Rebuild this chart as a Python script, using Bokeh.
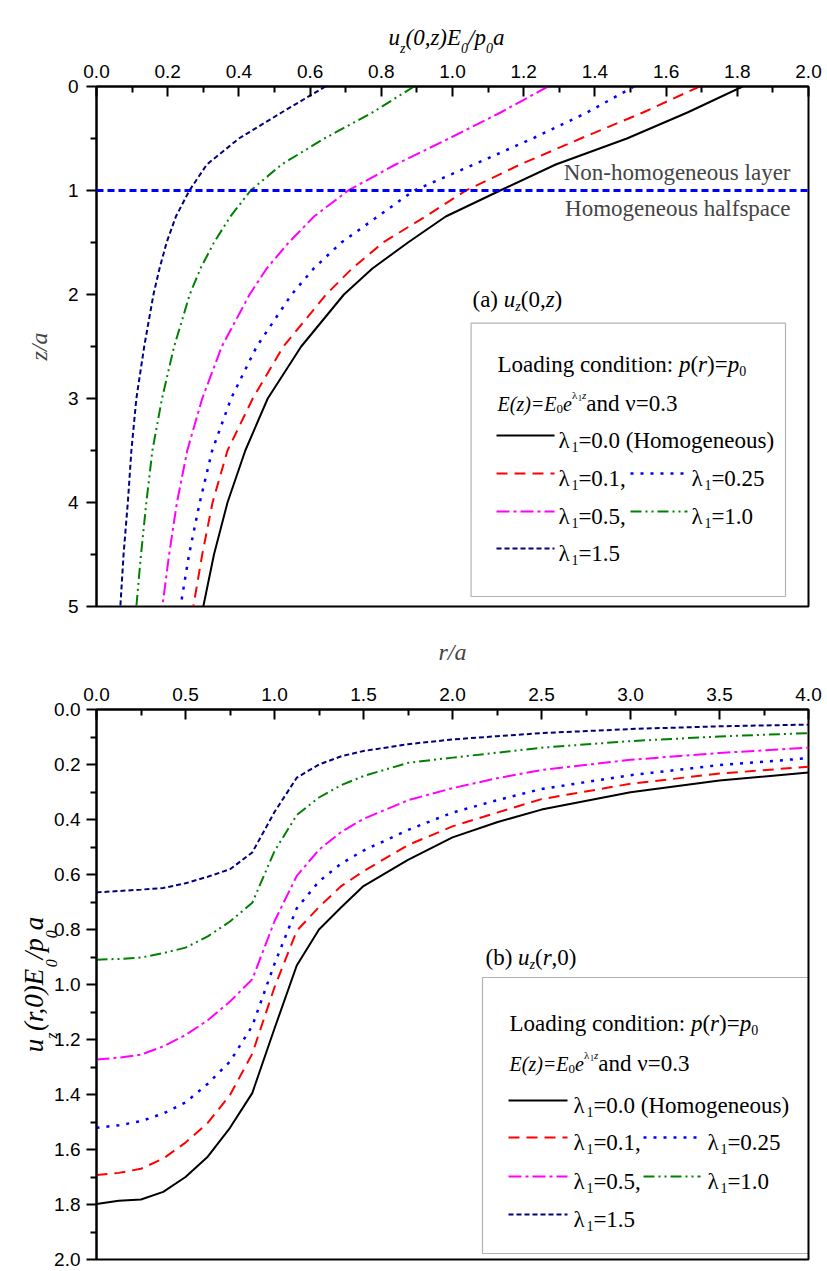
import math
from bokeh.plotting import figure
from bokeh.models import (Range1d, FixedTicker, PrintfTickFormatter, Label, BoxAnnotation, Span,
                          LinearAxis)
from bokeh.layouts import column
from bokeh.embed import file_html
from bokeh.resources import INLINE

# ---------------- data: panel (a) u_z(0,z) ----------------
z_a = [0, 0.25, 0.5, 0.75, 1.0, 1.25, 1.5, 1.75, 2.0, 2.5, 3.0, 3.5, 4.0, 4.5, 5.0]
ua_00 = [1.815, 1.66, 1.49, 1.29, 1.134, 0.981, 0.875, 0.775, 0.695, 0.575, 0.481, 0.418, 0.368, 0.33, 0.30]
ua_01 = [1.694, 1.535, 1.36, 1.19, 1.038, 0.924, 0.805, 0.718, 0.645, 0.525, 0.439, 0.368, 0.326, 0.297, 0.272]
ua_025 = [1.51, 1.378, 1.225, 1.06, 0.892, 0.79, 0.688, 0.61, 0.548, 0.45, 0.378, 0.325, 0.29, 0.26, 0.236]
ua_05 = [1.268, 1.135, 0.99, 0.84, 0.707, 0.611, 0.54, 0.478, 0.43, 0.352, 0.297, 0.255, 0.226, 0.204, 0.185]
ua_10 = [0.892, 0.775, 0.64, 0.52, 0.433, 0.376, 0.33, 0.292, 0.262, 0.218, 0.184, 0.157, 0.14, 0.125, 0.112]
ua_15 = [0.643, 0.52, 0.40, 0.31, 0.261, 0.223, 0.197, 0.177, 0.16, 0.134, 0.112, 0.098, 0.088, 0.076, 0.067]
layer_depth = 1.0

# ---------------- data: panel (b) u_z(r,0) ----------------
r_b = [0, 0.125, 0.25, 0.375, 0.5, 0.625, 0.75, 0.875, 1.0, 1.125, 1.25, 1.375, 1.5, 1.75, 2.0, 2.25, 2.5, 3.0, 3.5, 4.0]
ub_00 = [1.798, 1.786, 1.782, 1.754, 1.70, 1.626, 1.521, 1.395, 1.16, 0.931, 0.80, 0.719, 0.642, 0.547, 0.465, 0.41, 0.364, 0.301, 0.258, 0.229]
ub_01 = [1.693, 1.685, 1.67, 1.633, 1.575, 1.503, 1.402, 1.252, 1.01, 0.805, 0.718, 0.642, 0.588, 0.493, 0.425, 0.375, 0.326, 0.27, 0.233, 0.208]
ub_025 = [1.521, 1.512, 1.497, 1.469, 1.429, 1.361, 1.28, 1.151, 0.925, 0.723, 0.625, 0.56, 0.513, 0.438, 0.375, 0.33, 0.289, 0.239, 0.202, 0.177]
ub_05 = [1.273, 1.266, 1.255, 1.225, 1.184, 1.13, 1.062, 0.981, 0.77, 0.605, 0.51, 0.445, 0.398, 0.33, 0.286, 0.25, 0.22, 0.183, 0.158, 0.139]
ub_10 = [0.910, 0.907, 0.902, 0.886, 0.866, 0.825, 0.771, 0.703, 0.515, 0.384, 0.32, 0.275, 0.242, 0.194, 0.175, 0.157, 0.139, 0.115, 0.098, 0.086]
ub_15 = [0.665, 0.66, 0.655, 0.649, 0.632, 0.608, 0.581, 0.52, 0.373, 0.248, 0.2, 0.17, 0.151, 0.126, 0.109, 0.097, 0.086, 0.071, 0.061, 0.055]

lambdas = ["0.0", "0.1", "0.25", "0.5", "1.0", "1.5"]

# ticks
xa_ticks = [0.0, 0.2, 0.4, 0.6, 0.8, 1.0, 1.2, 1.4, 1.6, 1.8, 2.0]
xa_minor = [0.1, 0.3, 0.5, 0.7, 0.9, 1.1, 1.3, 1.5, 1.7, 1.9]
ya_ticks = [0, 1, 2, 3, 4, 5]
ya_minor = [0.5, 1.5, 2.5, 3.5, 4.5]
xb_ticks = [0.0, 0.5, 1.0, 1.5, 2.0, 2.5, 3.0, 3.5, 4.0]
xb_minor = [0.25, 0.75, 1.25, 1.75, 2.25, 2.75, 3.25, 3.75]
yb_ticks = [0.0, 0.2, 0.4, 0.6, 0.8, 1.0, 1.2, 1.4, 1.6, 1.8, 2.0]
yb_minor = [0.1, 0.3, 0.5, 0.7, 0.9, 1.1, 1.3, 1.5, 1.7, 1.9]

# ---------------- styles ----------------
SERIF = "Liberation Serif"
SANS = "Liberation Sans"
LS = 23  # legend font size
STY = {
    "0.0": dict(line_color="black", line_dash="solid", line_width=2),
    "0.1": dict(line_color="#ff0000", line_dash="11 7", line_width=2),
    "0.25": dict(line_color="#0000ff", line_dash="3 7", line_width=2.5),
    "0.5": dict(line_color="#ff00ff", line_dash="13 4 3 4", line_width=2),
    "1.0": dict(line_color="#008000", line_dash="11 4 2 4 2 4", line_width=2),
    "1.5": dict(line_color="#000080", line_dash="5 3", line_width=2),
}

REG = {' ': 250, '(': 333, ')': 333, ',': 250, '-': 333, '.': 250, '/': 278, ':': 278, '=': 564,
       'a': 444, 'b': 500, 'c': 444, 'd': 500, 'e': 444, 'f': 333, 'g': 500, 'h': 500, 'i': 278,
       'l': 278, 'm': 778, 'n': 500, 'o': 500, 'p': 500, 'r': 333, 's': 389, 't': 278, 'u': 500,
       'v': 500, 'y': 500, 'z': 444, 'E': 611, 'H': 722, 'L': 611, 'N': 722, 'λ': 560, 'ν': 500}
ITA = {' ': 250, '(': 333, ')': 333, ',': 250, '/': 278, '=': 675, 'a': 500, 'e': 444, 'p': 500,
       'r': 389, 'u': 500, 'z': 389, 'E': 611}


def tw(text, style, size):
    tab = ITA if style == "italic" else REG
    return sum(tab.get(c, 500) for c in text) / 1000.0 * size


def rich(p, x, y, pieces):
    """pieces: (text, size, style, dy) placed left to right; dy>0 shifts the baseline down."""
    adv = 0.0
    for t, s, st, dy in pieces:
        p.add_layout(Label(x=x + adv, y=y - dy, x_units="screen", y_units="screen", text=t,
                           text_font=SERIF, text_font_size=f"{s}px", text_font_style=st,
                           text_baseline="alphabetic", text_align="left", text_color="black"))
        adv += tw(t, st, s)


def frame2data(p, fw, fh, sx, sy):
    xr, yr = p.x_range, p.y_range
    return (xr.start + (xr.end - xr.start) * sx / fw, yr.start + (yr.end - yr.start) * sy / fh)


def sample(p, fw, fh, x0, x1, y, lam):
    a = frame2data(p, fw, fh, x0, y)
    b = frame2data(p, fw, fh, x1, y)
    p.line([a[0], b[0]], [a[1], b[1]], **STY[lam])


def lam_label(p, x, y, val):
    rich(p, x, y, [("λ", LS, "normal", 0), ("1", 14, "normal", 6), ("=" + val, LS, "normal", 0)])


def style_axis(ax, ticks, minor, fmt, inward):
    ax.ticker = FixedTicker(ticks=ticks, minor_ticks=minor)
    ax.formatter = PrintfTickFormatter(format=fmt)
    ax.axis_line_width = 2
    ax.axis_line_color = "black"
    ax.major_tick_line_width = 2
    ax.minor_tick_line_width = 2
    ax.major_tick_line_color = "black"
    ax.minor_tick_line_color = "black"
    if inward:
        ax.major_tick_in, ax.major_tick_out = 10, 0
        ax.minor_tick_in, ax.minor_tick_out = 6, 0
    else:
        ax.major_tick_in, ax.major_tick_out = 0, 10
        ax.minor_tick_in, ax.minor_tick_out = 0, 6
    ax.major_label_text_font = SANS
    ax.major_label_text_font_size = "19px"
    ax.major_label_text_color = "black"


def text_axis(p, side, positions, texts, size, standoff, orientation="horizontal"):
    """An axis without line/ticks whose labels carry pieces of a rich-text title."""
    ax = LinearAxis()
    ax.ticker = FixedTicker(ticks=positions, minor_ticks=[])
    ax.major_label_overrides = {pos: t for pos, t in zip(positions, texts)}
    ax.axis_line_color = None
    ax.major_tick_line_color = None
    ax.minor_tick_line_color = None
    ax.major_tick_in = ax.major_tick_out = 0
    ax.minor_tick_in = ax.minor_tick_out = 0
    ax.major_label_text_font = SERIF
    ax.major_label_text_font_style = "italic"
    ax.major_label_text_font_size = f"{size}px"
    ax.major_label_text_color = "black"
    ax.major_label_standoff = standoff
    ax.major_label_orientation = orientation
    p.add_layout(ax, side)


def rich_title(p, fw, fh, side, center, seq, S, s, std_sub, std_main, orientation="horizontal"):
    """seq: list of (text, is_sub). Lays pieces along the axis direction around 'center' (frame px)."""
    total = sum(tw(t, "italic", s if sub else S) for t, sub in seq)
    adv = center - total / 2.0
    main_pos, main_txt, sub_pos, sub_txt = [], [], [], []
    for t, sub in seq:
        w = tw(t, "italic", s if sub else S)
        c = adv + w / 2.0
        if side == "above":
            d = frame2data(p, fw, fh, c, 0)[0]
        else:
            d = frame2data(p, fw, fh, 0, c)[1]
        (sub_pos if sub else main_pos).append(d)
        (sub_txt if sub else main_txt).append(t)
        adv += w
    text_axis(p, side, sub_pos, sub_txt, s, std_sub, orientation)
    text_axis(p, side, main_pos, main_txt, S, std_main, orientation)


def base_fig(fw, fh, xr, yr, top, bottom):
    p = figure(frame_width=fw, frame_height=fh, x_range=xr, y_range=yr, x_axis_location="above",
               toolbar_location=None, output_backend="svg", min_border_left=96, min_border_right=19,
               min_border_top=top, min_border_bottom=bottom, background_fill_color="white",
               border_fill_color="white")
    p.xgrid.visible = False
    p.ygrid.visible = False
    p.outline_line_color = "black"
    p.outline_line_width = 2
    p.outline_line_alpha = 1.0
    return p


# ================= panel (a) =================
FWA, FHA = 712, 520
pa = base_fig(FWA, FHA, Range1d(0, 2), Range1d(5, 0), 86, 24)
xa_axis, ya_axis = pa.xaxis[0], pa.yaxis[0]
style_axis(xa_axis, xa_ticks, xa_minor, "%.1f", True)
style_axis(ya_axis, ya_ticks, ya_minor, "%d", False)
xa_axis.major_label_standoff = 9
ya_axis.major_label_standoff = 8
ya_axis.axis_label = "z/a"
ya_axis.axis_label_text_font = SERIF
ya_axis.axis_label_text_font_style = "italic"
ya_axis.axis_label_text_font_size = "24px"
ya_axis.axis_label_standoff = 13

for lam, vals in zip(lambdas, [ua_00, ua_01, ua_025, ua_05, ua_10, ua_15]):
    pa.line(vals, z_a, **STY[lam])

pa.add_layout(Span(location=layer_depth, dimension="width", line_color="#0000ff",
                   line_width=3, line_dash="7 4"))
pa.add_layout(Label(x=694, y=434, x_units="screen", y_units="screen", text="Non-homogeneous layer",
                    text_font=SERIF, text_font_size="23px", text_align="right", text_baseline="alphabetic"))
pa.add_layout(Label(x=694, y=398, x_units="screen", y_units="screen", text="Homogeneous halfspace",
                    text_font=SERIF, text_font_size="23px", text_align="right", text_baseline="alphabetic"))

# rich axis title above panel (a): u_z(0,z)E_0/p_0a
rich_title(pa, FWA, FHA, "above", FWA / 2.0 - 6,
           [("u", False), ("z", True), ("(0,z)E", False), ("0", True), ("/p", False), ("0", True), ("a", False)],
           23, 14, 6, -12)

# legend (a)
pa.add_layout(BoxAnnotation(left=374.6, right=689, top=283.3, bottom=10, left_units="screen",
                            right_units="screen", top_units="screen", bottom_units="screen",
                            fill_alpha=0, line_color="black", line_width=1.2))
rich(pa, 376, 307, [("(a) ", LS, "normal", 0), ("u", LS, "italic", 0), ("z", 14, "italic", 7),
                    ("(0,", LS, "normal", 0), ("z", LS, "italic", 0), (")", LS, "normal", 0)])
rich(pa, 401, 242, [("Loading condition: ", LS, "normal", 0), ("p", LS, "italic", 0), ("(", LS, "normal", 0),
                    ("r", LS, "italic", 0), (")=", LS, "normal", 0), ("p", LS, "italic", 0),
                    ("0", 14, "normal", 6)])
rich(pa, 401, 203, [("E(z)=E", 20, "italic", 0), ("0", 13, "normal", 5), ("e", 20, "italic", 0),
                    ("λ", 11, "normal", -9), ("1", 8, "normal", -6), ("z", 11, "italic", -9),
                    ("   and ν=0.3", LS, "normal", 0)])
rows_a = [166, 128, 90, 53]
sample(pa, FWA, FHA, 400, 458, rows_a[0] + 5, "0.0")
lam_label(pa, 462, rows_a[0], "0.0 (Homogeneous)")
sample(pa, FWA, FHA, 400, 458, rows_a[1] + 5, "0.1")
lam_label(pa, 462, rows_a[1], "0.1,")
sample(pa, FWA, FHA, 534, 591, rows_a[1] + 5, "0.25")
lam_label(pa, 595, rows_a[1], "0.25")
sample(pa, FWA, FHA, 400, 458, rows_a[2] + 5, "0.5")
lam_label(pa, 462, rows_a[2], "0.5,")
sample(pa, FWA, FHA, 534, 591, rows_a[2] + 5, "1.0")
lam_label(pa, 595, rows_a[2], "1.0")
sample(pa, FWA, FHA, 400, 458, rows_a[3] + 5, "1.5")
lam_label(pa, 462, rows_a[3], "1.5")

# ================= panel (b) =================
FWB, FHB = 712, 550
pb = base_fig(FWB, FHB, Range1d(0, 4), Range1d(2, 0), 79, 12)
xb_axis, yb_axis = pb.xaxis[0], pb.yaxis[0]
style_axis(xb_axis, xb_ticks, xb_minor, "%.1f", True)
style_axis(yb_axis, yb_ticks, yb_minor, "%.1f", False)
xb_axis.major_label_standoff = 9
yb_axis.major_label_standoff = 6
xb_axis.axis_label = "r/a"
xb_axis.axis_label_text_font = SERIF
xb_axis.axis_label_text_font_style = "italic"
xb_axis.axis_label_text_font_size = "24px"
xb_axis.axis_label_standoff = 20

for lam, vals in zip(lambdas, [ub_00, ub_01, ub_025, ub_05, ub_10, ub_15]):
    pb.line(r_b, vals, **STY[lam])

# rotated rich title on the left: u_z(r,0)E_0/p_0a
rich_title(pb, FWB, FHB, "left", FHB / 2.0,
           [("u", False), ("z", True), ("(r,0)E", False), ("0", True), ("/p", False), ("0", True), ("a", False)],
           27, 16, -9, -9, orientation="vertical")

pb.add_layout(BoxAnnotation(left=386, right=712, top=282, bottom=6, left_units="screen",
                            right_units="screen", top_units="screen", bottom_units="screen",
                            fill_alpha=0, line_color="black", line_width=1.2))
rich(pb, 389, 302, [("(b) ", LS, "normal", 0), ("u", LS, "italic", 0), ("z", 14, "italic", 7),
                    ("(", LS, "normal", 0), ("r", LS, "italic", 0), (",0)", LS, "normal", 0)])
rich(pb, 413, 236, [("Loading condition: ", LS, "normal", 0), ("p", LS, "italic", 0), ("(", LS, "normal", 0),
                    ("r", LS, "italic", 0), (")=", LS, "normal", 0), ("p", LS, "italic", 0),
                    ("0", 14, "normal", 6)])
rich(pb, 413, 196, [("E(z)=E", 20, "italic", 0), ("0", 13, "normal", 5), ("e", 20, "italic", 0),
                    ("λ", 11, "normal", -9), ("1", 8, "normal", -6), ("z", 11, "italic", -9),
                    ("   and ν=0.3", LS, "normal", 0)])
rows_b = [154, 117, 78, 40]
sample(pb, FWB, FHB, 412, 471, rows_b[0] + 5, "0.0")
lam_label(pb, 477, rows_b[0], "0.0 (Homogeneous)")
sample(pb, FWB, FHB, 412, 471, rows_b[1] + 5, "0.1")
lam_label(pb, 477, rows_b[1], "0.1,")
sample(pb, FWB, FHB, 547, 604, rows_b[1] + 5, "0.25")
lam_label(pb, 611, rows_b[1], "0.25")
sample(pb, FWB, FHB, 412, 471, rows_b[2] + 5, "0.5")
lam_label(pb, 477, rows_b[2], "0.5,")
sample(pb, FWB, FHB, 547, 604, rows_b[2] + 5, "1.0")
lam_label(pb, 611, rows_b[2], "1.0")
sample(pb, FWB, FHB, 412, 471, rows_b[3] + 5, "1.5")
lam_label(pb, 477, rows_b[3], "1.5")

layout = column(pa, pb)
open("out.html", "w").write(file_html(layout, INLINE))
